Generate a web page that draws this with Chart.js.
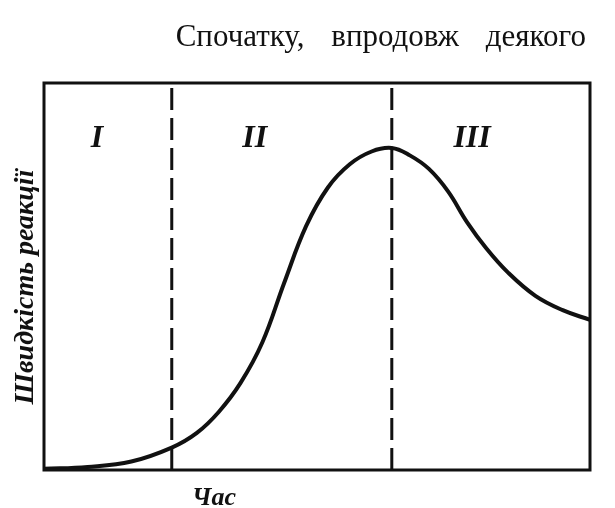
<!DOCTYPE html>
<html>
<head>
<meta charset="utf-8">
<script src="https://cdn.jsdelivr.net/npm/chart.js@4"></script>
<style>
  html, body { margin: 0; padding: 0; background: #fff; }
  #box { width: 615px; height: 508px; }
</style>
</head>
<body>
<div id="box"><canvas id="rateChart"></canvas></div>
<script>
// curve: time (0..100) vs reaction rate (0..100)
const timeX = [0, 8, 16, 23.4, 28, 32, 36, 40, 44, 48, 52, 56, 60, 63.7, 67, 70.5, 74, 77.5, 81, 85, 90, 95, 100];
const rate  = [0.3, 0.8, 2.2, 5.8, 9.6, 15.0, 22.5, 33.0, 48.4, 63.0, 73.0, 79.0, 82.3, 83.2, 81.3, 77.8, 72.0, 64.0, 57.3, 51.0, 45.0, 41.3, 38.8];
// phase borders (dashed lines) and phase names
const phaseBounds = [23.4, 63.7];
const phaseNames = ['I', 'II', 'III'];
const headText = 'Спочатку, впродовж деякого';
const xLabel = 'Час';
const yLabel = 'Швидкість реакції';

const ink = '#111';

let datasets = [{
  data: timeX.map((x, i) => ({x: x, y: rate[i]})),
  borderColor: ink,
  borderWidth: 4,
  pointRadius: 0,
  tension: 0.4,
  clip: false
}];
phaseBounds.forEach(b => {
  datasets.push({
    data: [{x: b, y: 0}, {x: b, y: 100}],
    borderColor: ink,
    borderWidth: 3,
    borderDash: [22, 8],
    pointRadius: 0
  });
});

// frame, phase numerals and the texts
const decor = {
  id: 'decor',
  afterDraw(chart) {
    const ctx = chart.ctx, a = chart.chartArea;
    const xs = chart.scales.x, ys = chart.scales.y;
    ctx.save();
    ctx.strokeStyle = ink;
    ctx.lineWidth = 3;
    ctx.strokeRect(a.left, a.top, a.right - a.left, a.bottom - a.top);

    ctx.fillStyle = ink;
    ctx.textAlign = 'center';
    ctx.textBaseline = 'alphabetic';
    ctx.font = 'italic bold 32px "Liberation Serif"';
    const mids = [9.7, 38.6, 78.4];
    phaseNames.forEach((n, i) => {
      ctx.fillText(n, xs.getPixelForValue(mids[i]), ys.getPixelForValue(86.6) + 12);
    });

    ctx.font = '31px "Liberation Serif"';
    ctx.textAlign = 'right';
    ctx.wordSpacing = '19px';
    ctx.fillText(headText, 586, 46);
    ctx.wordSpacing = '0px';

    ctx.font = 'italic bold 26px "Liberation Serif"';
    ctx.textAlign = 'left';
    ctx.fillText(xLabel, 192, 505);

    ctx.translate(33, 287);
    ctx.rotate(-Math.PI / 2);
    ctx.textAlign = 'center';
    ctx.font = 'italic bold 28px "Liberation Serif"';
    ctx.fillText(yLabel, 0, 0);
    ctx.restore();
  }
};

new Chart(document.getElementById('rateChart'), {
  type: 'line',
  data: { datasets: datasets },
  options: {
    responsive: true,
    maintainAspectRatio: false,
    animation: false,
    layout: { padding: { left: 44, top: 83, right: 25, bottom: 38 } },
    plugins: { legend: { display: false }, tooltip: { enabled: false } },
    scales: {
      x: { type: 'linear', min: 0, max: 100, display: false },
      y: { min: 0, max: 100, display: false }
    }
  },
  plugins: [decor]
});
</script>
</body>
</html>
